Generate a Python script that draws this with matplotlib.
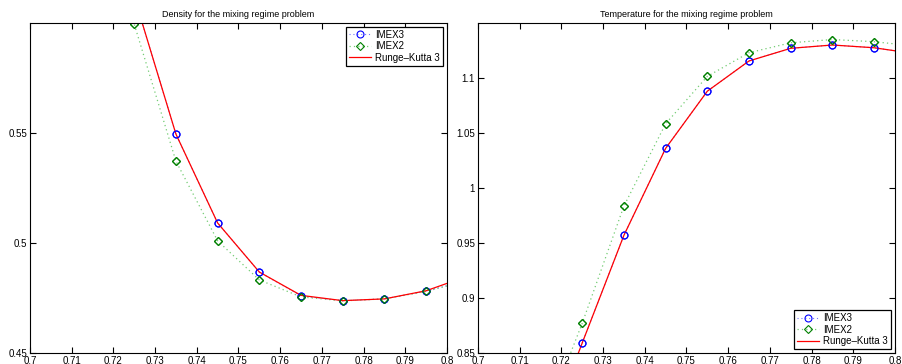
import numpy as np
import matplotlib
matplotlib.use('Agg')
import matplotlib.pyplot as plt

plt.rcParams['font.family'] = ['Liberation Sans', 'DejaVu Sans']

# x positions of the solution samples
x = [0.715, 0.725, 0.735, 0.745, 0.755, 0.765, 0.775, 0.785, 0.795, 0.805]

# density
rho_imex3 = [0.700, 0.612, 0.5495, 0.5091, 0.4868, 0.4759, 0.4738, 0.4746, 0.4782, 0.4830]
rho_imex2 = [0.680, 0.5995, 0.5372, 0.5010, 0.4832, 0.4755, 0.4737, 0.4746, 0.4780, 0.4830]
rho_rk3   = [0.700, 0.612, 0.5495, 0.5091, 0.4868, 0.4762, 0.4738, 0.4746, 0.4783, 0.4850]

# temperature
T_imex3 = [0.760, 0.8591, 0.9570, 1.0360, 1.0880, 1.1155, 1.1270, 1.1300, 1.1275, 1.1220]
T_imex2 = [0.780, 0.8770, 0.9836, 1.0584, 1.1015, 1.1230, 1.1320, 1.1350, 1.1330, 1.1290]
T_rk3   = [0.760, 0.8591, 0.9570, 1.0360, 1.0880, 1.1155, 1.1270, 1.1300, 1.1275, 1.1220]

xticks = [0.7, 0.71, 0.72, 0.73, 0.74, 0.75, 0.76, 0.77, 0.78, 0.79, 0.8]
xticklabels = ['0.7', '0.71', '0.72', '0.73', '0.74', '0.75', '0.76', '0.77', '0.78', '0.79', '0.8']

fig = plt.figure(figsize=(9.03, 3.64), dpi=100)
ax1 = fig.add_axes([0.0332, 0.0302, 0.4618, 0.9066])
ax2 = fig.add_axes([0.5293, 0.0302, 0.4618, 0.9066])

verde = (0, 0.5, 0)


def dibujar(ax, y3, y2, yrk, titulo, ylim, yticks, yticklabels, loc):
    ax.plot(x, y3, color=(0.45, 0.45, 1), ls=(0, (1, 2.5)), lw=0.8, marker='o', ms=5,
            mfc='none', mec='b', mew=0.8, label='IMEX3')
    ax.plot(x, y2, color=(0.45, 0.8, 0.45), ls=(0, (1, 2.5)), lw=0.9, marker='D', ms=4.2,
            mfc='none', mec=verde, mew=0.8, label='IMEX2')
    ax.plot(x, yrk, '-', color='r', lw=0.9, label='Runge\u2013Kutta 3')
    # marcadores por encima de la linea roja
    ax.plot(x, y3, 'o', color='b', ms=5, mfc='none', mew=0.8)
    ax.plot(x, y2, 'D', color=verde, ms=4.2, mfc='none', mew=0.8)
    ax.set_xlim(0.7, 0.8)
    ax.set_ylim(*ylim)
    ax.set_xticks(xticks)
    ax.set_xticklabels(xticklabels)
    ax.set_yticks(yticks)
    ax.set_yticklabels(yticklabels)
    ax.tick_params(direction='in', length=4, width=0.8, labelsize=7,
                   top=True, right=True, pad=2)
    for s in ax.spines.values():
        s.set_linewidth(0.8)
    ax.set_title(titulo, fontsize=6.5, pad=4)
    leg = ax.legend(loc=loc, fontsize=7, fancybox=False, framealpha=1,
                    edgecolor='k', borderpad=0.3, labelspacing=0.15, numpoints=1,
                    handlelength=2.2, handletextpad=0.5, borderaxespad=0.4)
    leg.get_frame().set_linewidth(0.9)


dibujar(ax1, rho_imex3, rho_imex2, rho_rk3, 'Density for the mixing regime problem',
        (0.45, 0.6), [0.45, 0.5, 0.55], ['0.45', '0.5', '0.55'], 'upper right')
dibujar(ax2, T_imex3, T_imex2, T_rk3, 'Temperature for the mixing regime problem',
        (0.85, 1.15), [0.85, 0.9, 0.95, 1.0, 1.05, 1.1],
        ['0.85', '0.9', '0.95', '1', '1.05', '1.1'], 'lower right')

fig.savefig('out.png', dpi=100)
